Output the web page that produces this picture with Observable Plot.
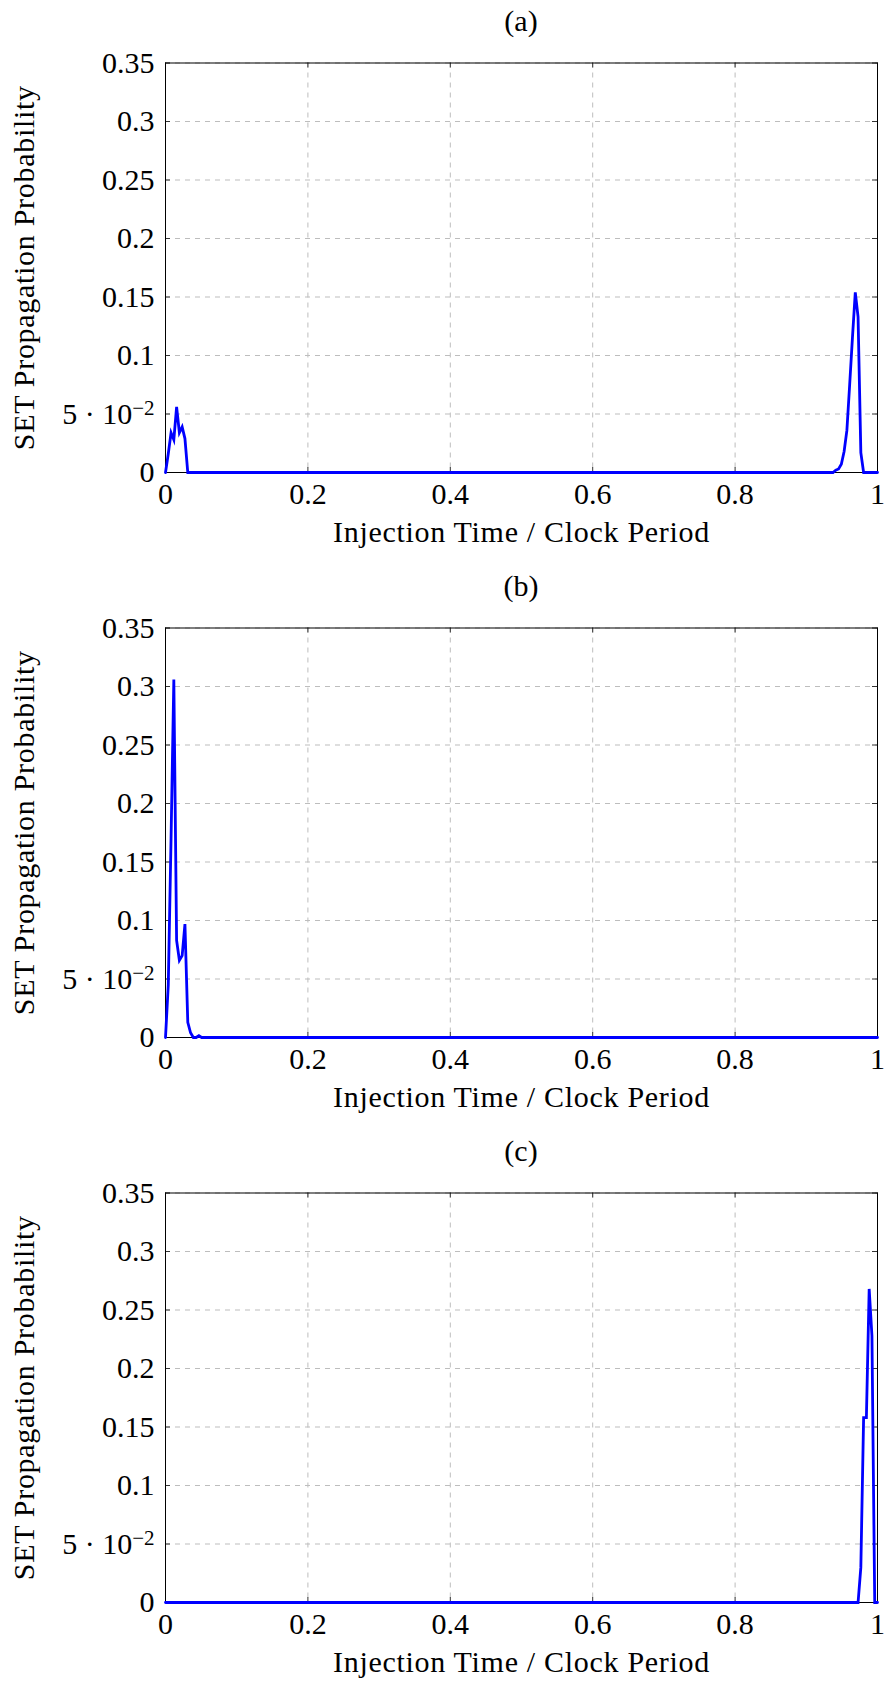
<!DOCTYPE html>
<html><head><meta charset="utf-8">
<script src="https://cdn.jsdelivr.net/npm/d3@7"></script>
<script src="https://cdn.jsdelivr.net/npm/@observablehq/plot@0.6"></script>
<style>
body{margin:0;background:#fff;}
#root{width:885px;}
.panel{width:885px;height:565px;position:relative;}
.title{position:absolute;left:165px;width:712px;top:0;height:42px;line-height:42px;text-align:center;font-family:"Liberation Serif",serif;font-size:30px;color:#000;}
.panel svg{position:absolute;left:0;top:42px;}
g[aria-label="x-axis label"] text, g[aria-label="y-axis label"] text{letter-spacing:0.7px;}
</style></head><body><div id="root"></div>
<script>
const titles = ["(a)", "(b)", "(c)"];
const xLabel = "Injection Time / Clock Period";
const yLabel = "SET Propagation Probability";
const xTicks = [0, 0.2, 0.4, 0.6, 0.8, 1];
const xTickLabels = ["0", "0.2", "0.4", "0.6", "0.8", "1"];
const yTicks = [0, 0.05, 0.1, 0.15, 0.2, 0.25, 0.3, 0.35];
const yTickLabels = ["0", "5 · 10^−2", "0.1", "0.15", "0.2", "0.25", "0.3", "0.35"];

// panel (a)
const aX = [0, 0.0039, 0.0078, 0.0117, 0.0156, 0.0195, 0.0234, 0.0273, 0.0313, 0.9375, 0.9414, 0.9453, 0.9492, 0.9531, 0.957, 0.9609, 0.9648, 0.9688, 0.9727, 0.9766, 0.9805, 1];
const aY = [0, 0.016, 0.034, 0.028, 0.056, 0.034, 0.039, 0.029, 0, 0, 0.002, 0.003, 0.007, 0.018, 0.036, 0.075, 0.115, 0.154, 0.133, 0.017, 0, 0];
// panel (b)
const bX = [0, 0.0039, 0.0078, 0.0117, 0.0156, 0.0195, 0.0234, 0.0273, 0.0313, 0.0352, 0.0391, 0.043, 0.0469, 0.0508, 1];
const bY = [0, 0.045, 0.17, 0.306, 0.083, 0.066, 0.070, 0.097, 0.013, 0.004, 0, 0, 0.0015, 0, 0];
// panel (c)
const cX = [0, 0.9727, 0.9766, 0.9805, 0.9844, 0.9883, 0.9922, 0.9961, 1];
const cY = [0, 0, 0.03, 0.158, 0.158, 0.268, 0.228, 0, 0];

const series = [[aX, aY], [bX, bY], [cX, cY]];

const FH = 409.5, MT = 20.5, MB = 93, ML = 165, MR = 8, W = 885;
const FW = W - ML - MR;
const H = MT + FH + MB;
const font = "'Liberation Serif', serif";

function makePanel(xs, ys) {
  const data = xs.map((x, i) => ({x, y: ys[i]}));
  const svg = Plot.plot({
    width: W, height: H,
    marginLeft: ML, marginRight: MR, marginTop: MT, marginBottom: MB,
    style: {fontFamily: font, fontSize: "30px", color: "#000", background: "transparent", overflow: "visible"},
    x: {domain: [0, 1]},
    y: {domain: [0, 0.35]},
    marks: [
      Plot.gridX(xTicks, {stroke: "#bdbdbd", strokeOpacity: 1, strokeDasharray: "5,5", strokeWidth: 1}),
      Plot.gridY(yTicks, {stroke: "#bdbdbd", strokeOpacity: 1, strokeDasharray: "5,5", strokeWidth: 1}),
      Plot.tickX(xTicks, {x: d => d, stroke: "#333", insetBottom: FH - 5}),
      Plot.tickX(xTicks, {x: d => d, stroke: "#333", insetTop: FH - 5}),
      Plot.tickY(yTicks, {y: d => d, stroke: "#333", insetRight: FW - 5}),
      Plot.tickY(yTicks, {y: d => d, stroke: "#333", insetLeft: FW - 5}),
      Plot.axisX(xTicks, {anchor: "bottom", tickSize: 0, tickPadding: 10,
        tickFormat: d => xTickLabels[xTicks.indexOf(d)],
        label: xLabel, labelAnchor: "center", labelOffset: 69, labelArrow: "none"}),
      Plot.axisY(yTicks, {anchor: "left", tickSize: 0, tickPadding: 11,
        tickFormat: d => yTickLabels[yTicks.indexOf(d)],
        label: yLabel, labelAnchor: "center", labelOffset: 153, labelArrow: "none"}),
      Plot.frame({stroke: "#000", strokeWidth: 1}),
      Plot.line(data, {x: "x", y: "y", stroke: "#0000ff", strokeWidth: 2.8, strokeLinejoin: "miter", strokeMiterlimit: 10})
    ]
  });
  // superscript for 5·10^−2
  svg.querySelectorAll("text").forEach(t => {
    if (t.textContent.includes("^")) {
      const [base, sup] = t.textContent.split("^");
      t.textContent = base;
      const ts = document.createElementNS("http://www.w3.org/2000/svg", "tspan");
      ts.setAttribute("dy", "-0.42em");
      ts.setAttribute("font-size", "0.7em");
      ts.textContent = sup;
      t.appendChild(ts);
    }
  });
  return svg;
}

const root = document.getElementById("root");
series.forEach(([xs, ys], i) => {
  const div = document.createElement("div");
  div.className = "panel";
  const t = document.createElement("div");
  t.className = "title";
  t.textContent = titles[i];
  div.appendChild(t);
  div.appendChild(makePanel(xs, ys));
  root.appendChild(div);
});
</script>
</body></html>
